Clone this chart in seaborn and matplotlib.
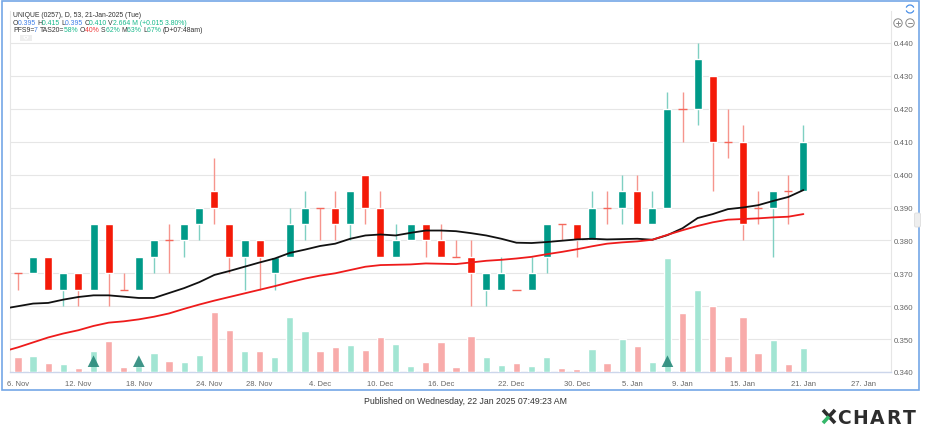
import numpy as np
import pandas as pd
import matplotlib.pyplot as plt
from matplotlib.patches import Rectangle, Circle, Arc, FancyBboxPatch, Polygon
from matplotlib.lines import Line2D
import seaborn as sns

# trading days on the chart (market closed 25 Dec and 1 Jan)
holidays = ["2024-12-25", "2025-01-01"]
dates = pd.bdate_range("2024-11-06", "2025-01-21", freq="C", holidays=holidays)
future_days = pd.bdate_range("2025-01-22", "2025-01-31")

opens = [0.370, 0.370, 0.375, 0.365, 0.370, 0.365, 0.385, 0.365, 0.365, 0.375,
         0.380, 0.380, 0.385, 0.395, 0.385, 0.375, 0.380, 0.370, 0.375, 0.385,
         0.390, 0.390, 0.385, 0.400, 0.390, 0.375, 0.380, 0.385, 0.380, 0.375,
         0.375, 0.365, 0.365, 0.365, 0.365, 0.375, 0.385, 0.385, 0.380, 0.390,
         0.390, 0.395, 0.385, 0.390, 0.420, 0.420, 0.430, 0.410, 0.410, 0.390,
         0.390, 0.395, 0.395]
highs = [0.370, 0.375, 0.375, 0.370, 0.370, 0.385, 0.385, 0.370, 0.375, 0.380,
         0.385, 0.385, 0.390, 0.405, 0.385, 0.380, 0.380, 0.375, 0.390, 0.395,
         0.390, 0.395, 0.395, 0.400, 0.395, 0.385, 0.385, 0.385, 0.385, 0.380,
         0.380, 0.370, 0.375, 0.365, 0.375, 0.385, 0.385, 0.385, 0.395, 0.395,
         0.400, 0.400, 0.395, 0.425, 0.425, 0.440, 0.430, 0.420, 0.415, 0.395,
         0.395, 0.400, 0.415]
lows = [0.365, 0.370, 0.365, 0.360, 0.360, 0.365, 0.360, 0.365, 0.365, 0.370,
        0.370, 0.375, 0.380, 0.385, 0.370, 0.365, 0.365, 0.365, 0.375, 0.380,
        0.380, 0.380, 0.380, 0.385, 0.375, 0.375, 0.380, 0.375, 0.375, 0.375,
        0.360, 0.360, 0.365, 0.365, 0.365, 0.370, 0.380, 0.375, 0.380, 0.385,
        0.385, 0.385, 0.385, 0.390, 0.410, 0.415, 0.395, 0.405, 0.380, 0.385,
        0.375, 0.385, 0.395]
closes = [0.370, 0.375, 0.365, 0.370, 0.365, 0.385, 0.370, 0.365, 0.375, 0.380,
          0.380, 0.385, 0.390, 0.390, 0.375, 0.380, 0.375, 0.375, 0.385, 0.390,
          0.390, 0.385, 0.395, 0.390, 0.375, 0.380, 0.385, 0.380, 0.375, 0.375,
          0.370, 0.370, 0.370, 0.365, 0.370, 0.385, 0.385, 0.380, 0.390, 0.390,
          0.395, 0.385, 0.390, 0.420, 0.420, 0.435, 0.410, 0.410, 0.385, 0.390,
          0.395, 0.395, 0.410]
# volume in millions of shares
volumes = [1.63, 1.74, 1.00, 0.85, 0.41, 2.33, 3.41, 0.59, 0.67, 2.08,
           1.19, 1.08, 1.89, 6.69, 4.70, 2.33, 2.33, 1.63, 6.14, 4.52,
           2.33, 2.74, 3.00, 2.44, 3.92, 3.11, 0.63, 1.08, 3.30, 0.52,
           4.00, 1.70, 0.81, 1.00, 0.67, 1.63, 0.44, 0.30, 2.55, 0.97,
           3.66, 2.92, 1.11, 12.62, 6.52, 9.14, 7.29, 1.81, 6.11, 2.11,
           3.59, 0.89, 2.664]
# moving averages, first value is the day before the window (5 Nov)
ma_fast = [0.3592, 0.3600, 0.3608, 0.3610, 0.3620, 0.3628, 0.3633, 0.3633, 0.3629, 0.3625,
           0.3625, 0.3640, 0.3655, 0.3673, 0.3695, 0.3707, 0.3720, 0.3733, 0.3745, 0.3762,
           0.3772, 0.3783, 0.3790, 0.3805, 0.3815, 0.3818, 0.3815, 0.3823, 0.3830, 0.3830,
           0.3828, 0.3822, 0.3815, 0.3805, 0.3793, 0.3792, 0.3795, 0.3799, 0.3803, 0.3805,
           0.3803, 0.3804, 0.3805, 0.3802, 0.3816, 0.3837, 0.3868, 0.3880, 0.3895, 0.3900,
           0.3907, 0.3920, 0.3932, 0.3953]
ma_slow = [0.3462, 0.3475, 0.3490, 0.3505, 0.3517, 0.3527, 0.3540, 0.3550, 0.3554, 0.3560,
           0.3568, 0.3578, 0.3592, 0.3605, 0.3617, 0.3628, 0.3639, 0.3650, 0.3661, 0.3673,
           0.3684, 0.3693, 0.3700, 0.3710, 0.3720, 0.3725, 0.3726, 0.3727, 0.3730, 0.3729,
           0.3728, 0.3733, 0.3738, 0.3741, 0.3745, 0.3750, 0.3758, 0.3765, 0.3773, 0.3782,
           0.3790, 0.3794, 0.3797, 0.3802, 0.3817, 0.3831, 0.3844, 0.3855, 0.3863, 0.3865,
           0.3867, 0.3870, 0.3872, 0.3880]
signal_days = ["2024-11-13", "2024-11-18", "2025-01-08"]
tick_dates = ["2024-11-06", "2024-11-12", "2024-11-18", "2024-11-24", "2024-11-28",
              "2024-12-04", "2024-12-10", "2024-12-16", "2024-12-22", "2024-12-30",
              "2025-01-05", "2025-01-09", "2025-01-15", "2025-01-21", "2025-01-27"]
price_ticks = [0.340, 0.350, 0.360, 0.370, 0.380, 0.390, 0.400, 0.410, 0.420, 0.430, 0.440]

GREEN = "#009a88"
RED = "#f41a08"
WICK_UP = "#7fd0c2"
WICK_DN = "#f6958d"
DOJI = "#f4685c"
VOL_UP = "#a2e5d3"
VOL_DN = "#f8abaa"
TXT = "#333333"
BLUE_T = "#3f7fe8"
GREEN_T = "#19b98c"
RED_T = "#f03a3a"

sns.set_style("white")
plt.rcParams["font.family"] = ["Liberation Sans", "DejaVu Sans"]

W, H = 928, 427
fig = plt.figure(figsize=(W / 100, H / 100), dpi=100)
left, right, top, bottom = 10, 891, 12, 373
ax = fig.add_axes([left / W, 1 - bottom / H, (right - left) / W, (bottom - top) / H])
ax_vol = ax.twinx()

n = len(dates)
day = np.arange(n)
o, h, l, c = map(np.array, (opens, highs, lows, closes))
up = c > o
down = c < o
doji = c == o

# candles
ax.vlines(day, l, h, colors=np.where(up, WICK_UP, WICK_DN), lw=1, zorder=2)
ax.bar(day[up], (c - o)[up], bottom=o[up], width=0.53, color=GREEN, zorder=3)
ax.bar(day[down], (o - c)[down], bottom=c[down], width=0.53, color=RED, zorder=3)
ax.hlines(o[doji], day[doji] - 0.27, day[doji] + 0.27, colors=DOJI, lw=1, zorder=3)

# moving averages
ma_day = np.arange(-1, n)
sns.lineplot(x=ma_day, y=ma_fast, color="#111111", lw=1.3, ax=ax, zorder=4)
sns.lineplot(x=ma_day, y=ma_slow, color="#ee1b1b", lw=1.3, ax=ax, zorder=4)

# volume
vol_df = pd.DataFrame({"day": day, "volume": volumes,
                       "dir": np.where(up, "up", "down")})
sns.barplot(data=vol_df, x="day", y="volume", hue="dir", native_scale=True,
            palette={"up": VOL_UP, "down": VOL_DN}, width=0.48, dodge=False,
            saturation=1, errorbar=None, legend=False, ax=ax_vol)
sig_pos = [dates.get_loc(pd.Timestamp(d)) for d in signal_days]
sns.scatterplot(x=sig_pos, y=[1.2] * len(sig_pos), marker="^", s=70,
                color="#2a8a7b", edgecolor="none", alpha=0.9, ax=ax_vol, zorder=5)

# axes scales
px_per_cent = 32.9
ax.set_ylim(0.340, 0.340 + (bottom - top) / px_per_cent * 0.01)
ax_vol.set_ylim(0, (bottom - top) * 2.664 / 24)
ax.set_xlim(-0.53, 57.8)

axis_days = dates.append(future_days)
tick_ts = pd.to_datetime(tick_dates)
tick_pos = np.interp(tick_ts.asi8, axis_days.asi8, np.arange(len(axis_days)))
ax.set_xticks(tick_pos)
ax.set_xticklabels([f"{d.day}. {d:%b}" for d in tick_ts])
ax.set_yticks(price_ticks)
ax.set_yticklabels([f"{v:.3f}" for v in price_ticks])
ax.yaxis.tick_right()
ax.tick_params(axis="y", length=0, pad=2, labelsize=5.7, labelcolor="#666666")
ax.tick_params(axis="x", length=3.5, width=0.8, color="#ccd6eb", pad=2,
               labelsize=5.5, labelcolor="#666666")
ax_vol.set_yticks([])
ax.set_xlabel("")
ax.set_ylabel("")
ax_vol.set_ylabel("")
ax.grid(axis="y", color="#e6e6e6", lw=0.8)
ax.set_axisbelow(True)
for side in ["left", "right"]:
    ax.spines[side].set_color("#e6e6e6")
    ax.spines[side].set_linewidth(0.8)
ax.spines["top"].set_visible(False)
ax.spines["bottom"].set_color("#ccd6eb")
ax.spines["bottom"].set_linewidth(1)
for sp in ax_vol.spines.values():
    sp.set_visible(False)

# overlay in pixel coordinates for frame, header and footer
ov = fig.add_axes([0, 0, 1, 1], zorder=10)
ov.set_xlim(0, W)
ov.set_ylim(H, 0)
ov.axis("off")
ov.patch.set_visible(False)
ov.add_patch(Rectangle((2.5, 2), 917, 389, fill=False, ec="#74a7e6", lw=1.2))


def segments(x, y, parts, size, gap=0, **kw):
    prev = ov.text(x, y, parts[0][0], color=parts[0][1], fontsize=size,
                   va="baseline", ha="left", **kw)
    for s, col in parts[1:]:
        prev = ov.annotate(s, xy=(1, 0), xycoords=prev, xytext=(gap, 0),
                           textcoords="offset points", va="bottom", ha="left",
                           color=col, fontsize=size, **kw)


hs = 4.95
ov.text(13, 17.3, f"UNIQUE (0257), D, {n}, {dates[-1]:%d-%b-%Y} ({dates[-1]:%a})",
        color=TXT, fontsize=hs, va="baseline")
chg = closes[-1] - closes[-2]
segments(13, 24.7, [("O", TXT), (f"{opens[-1]:.3f} ", BLUE_T), ("H", TXT),
                    (f"{highs[-1]:.3f} ", GREEN_T), ("L", TXT), (f"{lows[-1]:.3f} ", BLUE_T),
                    ("C", TXT), (f"{closes[-1]:.3f} ", GREEN_T), ("V", TXT),
                    (f"{volumes[-1]:.3f} M (+{chg:.3f} {chg / closes[-2] * 100:.2f}%)", GREEN_T)], hs)
segments(13, 32.0, [("PFS9=", TXT), ("7 ", BLUE_T), ("TAS20=", TXT), ("58% ", GREEN_T),
                    ("O", TXT), ("40% ", RED_T), ("S", TXT), ("62% ", GREEN_T),
                    ("M", TXT), ("63% ", GREEN_T), ("L", TXT), ("67% ", GREEN_T),
                    ("(D+07:48am)", TXT)], hs)
ov.add_patch(Rectangle((20, 36), 12, 6, fc="#eeeeee", ec="none"))
ov.add_patch(Polygon([(23.8, 38), (28.2, 38), (26, 40.3)], closed=True, fc="#555555"))

# zoom / refresh buttons
ov.add_patch(Arc((910, 10), 8, 8, theta1=200, theta2=340, color="#4a8fe7", lw=0.9))
ov.add_patch(Arc((910, 10), 8, 8, theta1=20, theta2=160, color="#4a8fe7", lw=0.9))
for cx in (898, 910):
    ov.add_patch(Circle((cx, 24), 4.2, fill=False, ec="#888888", lw=0.7))
    ov.add_line(Line2D([cx - 2.3, cx + 2.3], [24, 24], color="#888888", lw=0.7))
ov.add_line(Line2D([898, 898], [21.7, 26.3], color="#888888", lw=0.7))
ov.add_patch(FancyBboxPatch((914.5, 214), 6, 14, boxstyle="round,pad=0,rounding_size=1.5",
                            fc="#eeeeee", ec="#dddddd", lw=0.6))

# footer
ov.text(466, 402, "Published on Wednesday, 22 Jan 2025 07:49:23 AM", color=TXT,
        fontsize=6.3, ha="center", va="center")
ov.add_line(Line2D([823, 835], [411, 424], color="#2d2d2d", lw=2.6, solid_capstyle="butt"))
ov.add_line(Line2D([829, 835], [417.5, 411], color="#2d2d2d", lw=2.6, solid_capstyle="butt"))
ov.add_line(Line2D([823, 829], [424, 417.5], color="#35b86a", lw=2.6, solid_capstyle="butt"))
segments(837, 424.5, [(ch, "#2d2d2d") for ch in "CHART"], 13.5, gap=1.3,
         fontweight="bold", family="DejaVu Sans")

fig.savefig("out.png", dpi=100)
